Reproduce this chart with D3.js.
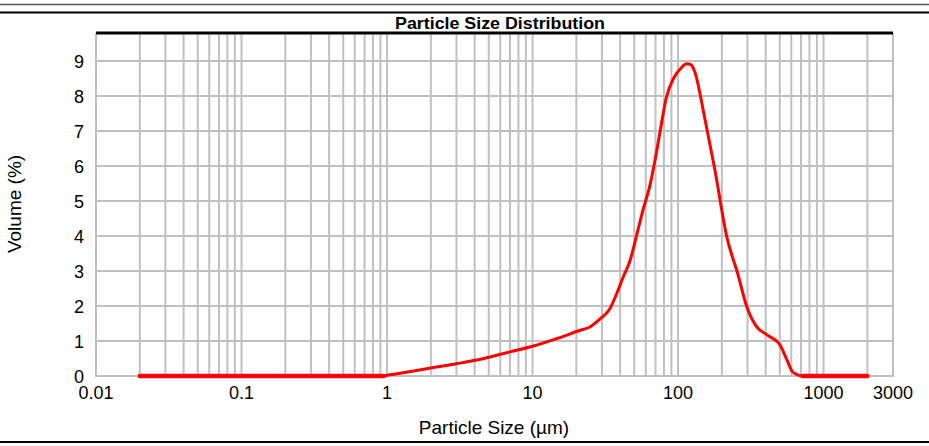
<!DOCTYPE html>
<html><head><meta charset="utf-8">
<script src="https://cdn.jsdelivr.net/npm/d3@7"></script>
<style>body{margin:0;background:#fff}svg{display:block}</style>
</head><body><svg id="c" width="929" height="446"></svg>
<script>
const sizes = [0.02,0.05,0.1,0.2,0.5,0.8,0.9,0.95,1.0,1.2,1.67,2.0,3.0,4.3,7.0,10,15,21,24.8,28.9,34,38,42,46.8,52,57.4,64.2,69.5,75,83,93,105,114,122,130,152,178,217,258,297,348,400,437,500,560,615,720,1000,1500,2000];
const volumes = [0,0,0,0,0,0,0,0,0.02,0.07,0.17,0.23,0.35,0.47,0.69,0.85,1.08,1.3,1.4,1.62,1.92,2.37,2.83,3.3,4.03,4.74,5.46,6.17,6.95,7.95,8.5,8.8,8.92,8.9,8.7,7.4,5.95,3.95,2.9,1.97,1.4,1.2,1.1,0.9,0.46,0.11,0,0,0,0];
const xTickValues = [0.01,0.1,1,10,100,1000,3000];
const xTickLabels = ["0.01","0.1","1","10","100","1000","3000"];
const yTickValues = [0,1,2,3,4,5,6,7,8,9];
const title = "Particle Size Distribution";
const xTitle = "Particle Size (µm)";
const yTitle = "Volume (%)";

const svg = d3.select("#c");
const L=96, R=893, T=33, B=376;
const x = d3.scaleLog().domain([0.01,3000]).range([L,R]);
const y = d3.scaleLinear().domain([0,9.8]).range([B,T]);
const FONT = "Liberation Sans, Arial, sans-serif";

// frame lines
svg.append("line").attr("x1",0).attr("x2",929).attr("y1",4.5).attr("y2",4.5).attr("stroke","#555").attr("stroke-width",1.5);
svg.append("line").attr("x1",0).attr("x2",929).attr("y1",12.5).attr("y2",12.5).attr("stroke","#000").attr("stroke-width",2);
svg.append("line").attr("x1",0).attr("x2",929).attr("y1",442).attr("y2",442).attr("stroke","#000").attr("stroke-width",2);

// grid
const vGrid = [];
for (let e=-2;e<=3;e++) for (let m=1;m<=9;m++){ const v=m*Math.pow(10,e); if(v>0.0100001 && v<=3000.0001) vGrid.push(v);}
const g = svg.append("g");
g.selectAll("line.v").data(vGrid).join("line").attr("class","v")
 .attr("x1",d=>x(d)).attr("x2",d=>x(d)).attr("y1",T).attr("y2",B)
 .attr("stroke","#c0c0c0").attr("stroke-width",2);
g.selectAll("line.h").data(yTickValues).join("line").attr("class","h")
 .attr("x1",L).attr("x2",R+1).attr("y1",d=>y(d)).attr("y2",d=>y(d))
 .attr("stroke","#c0c0c0").attr("stroke-width",2);
g.append("line").attr("x1",L).attr("x2",L).attr("y1",T).attr("y2",B+1).attr("stroke","#c0c0c0").attr("stroke-width",2);
// top black line
svg.append("line").attr("x1",L).attr("x2",R).attr("y1",T).attr("y2",T).attr("stroke","#000").attr("stroke-width",3);

// tick labels
svg.selectAll("text.yt").data(yTickValues).join("text").attr("class","yt")
 .attr("x",84).attr("y",d=>y(d)+6.5).attr("text-anchor","end")
 .attr("font-family",FONT).attr("font-size",18).text(d=>d);
svg.selectAll("text.xt").data(xTickValues).join("text").attr("class","xt")
 .attr("x",d=>x(d)).attr("y",399).attr("text-anchor","middle")
 .attr("font-family",FONT).attr("font-size",18).text((d,i)=>xTickLabels[i]);

// titles
svg.append("text").attr("x",500).attr("y",29).attr("text-anchor","middle")
 .attr("font-family","Liberation Sans Narrow, Arial Narrow, sans-serif").attr("font-weight","bold").attr("font-size",17)
 .attr("textLength",210).attr("lengthAdjust","spacingAndGlyphs").text(title);
svg.append("text").attr("x",494).attr("y",434).attr("text-anchor","middle")
 .attr("font-family",FONT).attr("font-size",19).text(xTitle);
svg.append("text").attr("transform","translate(21,204) rotate(-90)").attr("text-anchor","middle")
 .attr("font-family",FONT).attr("font-size",19).text(yTitle);

// curve
const data = sizes.map((s,i)=>({s, v:volumes[i]}));
const line = d3.line().x(d=>x(d.s)).y(d=>y(d.v)).curve(d3.curveMonotoneX);
svg.append("path").datum(data)
 .attr("d", line)
 .attr("fill","none").attr("stroke","#ff0000").attr("stroke-width",3).attr("stroke-linejoin","round").attr("stroke-linecap","round");
// flat zero segments are drawn heavier in the original
svg.append("path").datum(data)
 .attr("d", d3.line().defined(d=>d.v===0).x(d=>x(d.s)).y(d=>y(d.v)))
 .attr("fill","none").attr("stroke","#ff0000").attr("stroke-width",4.5).attr("stroke-linecap","round");
</script></body></html>
